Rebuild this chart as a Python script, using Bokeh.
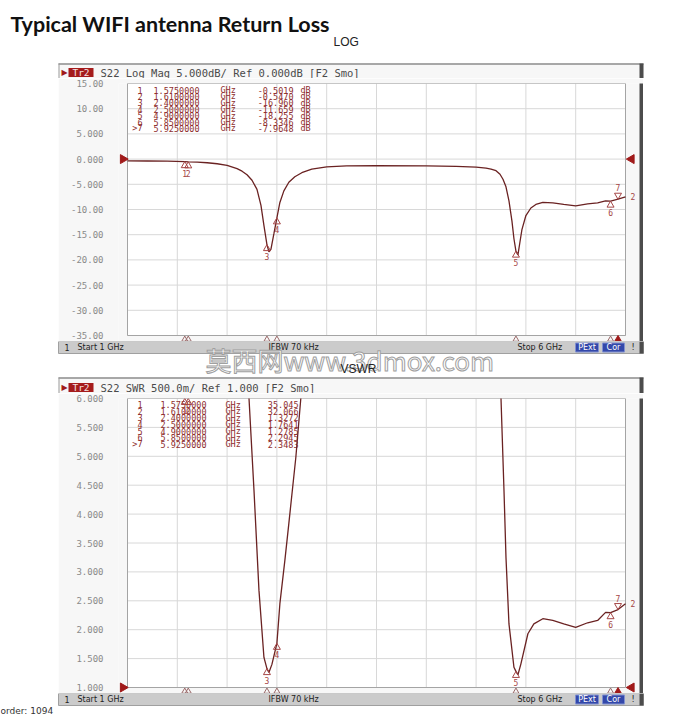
import numpy as np
from bokeh.plotting import figure
from bokeh.layouts import column, row
from bokeh.models import Range1d, FixedTicker, Spacer
from bokeh.core.properties import value
from bokeh.embed import file_html
from bokeh.resources import INLINE

# ---------------- data ----------------
F_START, F_STOP = 1.0, 6.0
X_GRID = [1.0, 1.5, 2.0, 2.5, 3.0, 3.5, 4.0, 4.5, 5.0, 5.5, 6.0]

RL_FREQ = [1.00, 1.20, 1.40, 1.575, 1.61, 1.70, 1.80, 1.90, 2.00, 2.10,
           2.15, 2.20, 2.25, 2.30, 2.34, 2.37, 2.40, 2.42, 2.44, 2.47,
           2.50, 2.53, 2.57, 2.62, 2.68, 2.75, 2.85, 3.00, 3.20, 3.50,
           4.00, 4.30, 4.50, 4.60, 4.65, 4.70, 4.74, 4.77, 4.80, 4.83,
           4.86, 4.88, 4.90, 4.92, 4.94, 4.96, 5.00, 5.05, 5.10, 5.17,
           5.27, 5.38, 5.50, 5.62, 5.72, 5.80, 5.85, 5.925, 6.00]
RL_DB = [-0.35, -0.38, -0.42, -0.50, -0.55, -0.60, -0.72, -0.92, -1.25, -1.90,
         -2.40, -3.10, -4.20, -6.00, -9.20, -13.2, -16.96, -18.4, -17.9, -14.8,
         -11.66, -8.6, -6.3, -4.6, -3.5, -2.7, -2.0, -1.55, -1.35, -1.30,
         -1.35, -1.45, -1.60, -1.80, -2.00, -2.30, -3.00, -4.00, -5.50, -8.30,
         -12.3, -15.8, -18.26, -19.0, -16.5, -14.0, -11.2, -9.7, -9.0, -8.6,
         -8.7, -9.0, -9.3, -8.9, -8.7, -8.3, -8.33, -7.96, -7.5]

SWR_FREQ = [1.00, 1.575, 1.61, 1.90, 2.10, 2.22, 2.27, 2.32, 2.37, 2.40,
            2.42, 2.45, 2.50, 2.53, 2.58, 2.62, 2.69, 2.74, 2.80, 3.00,
            3.50, 4.00, 4.50, 4.65, 4.75, 4.78, 4.80, 4.83, 4.88, 4.90,
            4.92, 4.95, 5.02, 5.08, 5.17, 5.27, 5.38, 5.50, 5.62, 5.72,
            5.80, 5.85, 5.925, 6.00]
SWR_VAL = [45.0, 35.045, 32.066, 19.0, 9.0, 6.0, 4.41, 2.68, 1.52, 1.3272,
           1.26, 1.40, 1.7641, 2.45, 3.20, 3.84, 4.98, 6.0, 7.5, 11.0,
           13.5, 13.5, 11.0, 8.5, 6.0, 4.41, 3.25, 2.10, 1.35, 1.2785,
           1.22, 1.41, 1.93, 2.10, 2.19, 2.16, 2.10, 2.04, 2.12, 2.16,
           2.30, 2.2945, 2.3483, 2.45]

MK_ID = ["1", "2", "3", "4", "5", "6", "7"]
MK_FREQ = [1.575, 1.61, 2.40, 2.50, 4.90, 5.85, 5.925]
MK_RL = [-0.5019, -0.5470, -16.960, -11.659, -18.255, -8.3346, -7.9648]
MK_SWR = [35.045, 32.066, 1.3272, 1.7641, 1.2785, 2.2945, 2.3483]
ACTIVE = "7"
TRACE_NO = "2"

RL_YTICKS = [15, 10, 5, 0, -5, -10, -15, -20, -25, -30, -35]
RL_YLABELS = ["15.00", "10.00", "5.000", "0.000", "-5.000", "-10.00",
              "-15.00", "-20.00", "-25.00", "-30.00", "-35.00"]
RL_REF = 0.0
SWR_YTICKS = [6.0, 5.5, 5.0, 4.5, 4.0, 3.5, 3.0, 2.5, 2.0, 1.5, 1.0]
SWR_YLABELS = ["6.000", "5.500", "5.000", "4.500", "4.000", "3.500",
               "3.000", "2.500", "2.000", "1.500", "1.000"]
SWR_REF = 1.0

# ---------------- styling / layout ----------------
W = 698
INSTR_BG = "#f7f7f7"
STATUS_BG = "#cbcbcb"
GRID_LINE = "#d8d8d8"
GRID_BOX = "#a4a4a4"
TRACE = "#6a2222"
MKC = "#a54646"
TABLE_C = "#8e2e2e"
REF_C = "#a01a1a"
BLUE = "#3448aa"
MONO = "DejaVu Sans Mono"

CH_X0, CH_X1 = 58, 643          # instrument window
FRAME_X0 = 118                  # plot frame left edge
GRID_X0, GRID_X1 = 127, 625     # grid (1 GHz .. 6 GHz)
PXG = (GRID_X1 - GRID_X0) / (F_STOP - F_START)


def txt(p, x, y, s, size, color, font="DejaVu Sans", align="left",
        baseline="middle", style="normal", **kw):
    p.text(x=[x], y=[y], text=[s], text_font=value(font), text_font_size=size,
           text_color=color, text_align=align, text_baseline=baseline,
           text_font_style=style, **kw)


def fmt5(v):
    ip = len(str(int(abs(v))))
    return f"{v:.{5 - ip}f}"


def band(y0, h):
    p = figure(width=W, height=h, x_range=Range1d(0, W), y_range=Range1d(y0 + h, y0),
               x_axis_location=None, y_axis_location=None, min_border=0,
               output_backend="svg", toolbar_location=None)
    p.grid.visible = False
    p.outline_line_color = None
    p.background_fill_color = "white"
    p.border_fill_color = "white"
    return p


def instr_header(p, ytop, ybot, ytext, label):
    p.quad(left=CH_X0, right=CH_X1, top=ytop, bottom=ybot, fill_color=INSTR_BG, line_color=None)
    p.segment(x0=[CH_X0], y0=[ytop + 0.5], x1=[CH_X1], y1=[ytop + 0.5], line_color="#8c8c8c", line_width=1.5)
    p.segment(x0=[CH_X0 + 0.5], y0=[ytop], x1=[CH_X0 + 0.5], y1=[ybot], line_color="#9c9c9c")
    p.quad(left=639, right=CH_X1, top=ytop, bottom=ybot, fill_color="#4c4c4c", line_color=None)
    txt(p, 61, ytext, "▶", "8px", REF_C)
    p.quad(left=68, right=93, top=ytext - 4.5, bottom=ytext + 4.5, fill_color="#a51c1c", line_color=None)
    txt(p, 80.5, ytext, "Tr2", "9.5px", "#f6e2e2", font=MONO, align="center")
    txt(p, 100, ytext, label, "10.5px", "#4a4a4a", font=MONO)


def status_bar(p, ytop, ybot):
    p.quad(left=CH_X0, right=CH_X1, top=ytop, bottom=ybot, fill_color=STATUS_BG, line_color="#a0a0a0")
    ym = (ytop + ybot) / 2
    txt(p, 64, ym, "1", "8px", "#222222")
    txt(p, 77, ym, f"Start {F_START:g} GHz", "8px", "#222222")
    txt(p, 268, ym, "IFBW 70 kHz", "8px", "#222222")
    txt(p, 517, ym, f"Stop {F_STOP:g} GHz", "8px", "#222222")
    for l, r, s in [(575, 598, "PExt"), (602, 624, "Cor")]:
        p.quad(left=l, right=r, top=ytop + 1.5, bottom=ybot - 1.5, fill_color=BLUE, line_color="#8090d0")
        txt(p, (l + r) / 2, ym, s, "8px", "white", align="center")
    txt(p, 631, ym, "!", "8px", "#222222")
    p.quad(left=639, right=CH_X1, top=ytop, bottom=ybot, fill_color="#4c4c4c", line_color=None)


def make_chart(fig_y0, h, g_top, g_bot, yticks, ylabels, fx, fy, mk_vals, ref, rows):
    vtop, vbot = yticks[0], yticks[-1]
    pxu = (g_bot - g_top) / (vtop - vbot)
    frame_bot = fig_y0 + h
    x_range = Range1d(F_START - (GRID_X0 - FRAME_X0) / PXG, F_STOP + (CH_X1 - GRID_X1) / PXG)
    y_range = Range1d(vbot - (frame_bot - g_bot) / pxu, vtop)
    p = figure(width=CH_X1 - CH_X0, height=h, x_range=x_range, y_range=y_range,
               min_border_left=FRAME_X0 - CH_X0, min_border_right=0,
               min_border_top=g_top - fig_y0, min_border_bottom=0,
               x_axis_location=None, y_axis_location="left",
               output_backend="svg", toolbar_location=None)
    p.grid.visible = False
    p.outline_line_color = None
    p.background_fill_color = INSTR_BG
    p.border_fill_color = INSTR_BG

    ax = p.yaxis[0]
    ax.ticker = FixedTicker(ticks=yticks)
    ax.major_label_overrides = {float(t): l for t, l in zip(yticks, ylabels)}
    ax.axis_line_color = None
    ax.major_tick_line_color = None
    ax.minor_tick_line_color = None
    ax.major_label_standoff = 9
    ax.major_label_text_font = MONO
    ax.major_label_text_font_size = "9px"
    ax.major_label_text_color = "#8a8a8a"

    def px(xp):
        return F_START + (xp - GRID_X0) / PXG

    def py(yp):
        return vtop - (yp - g_top) / pxu

    # grid
    p.quad(left=F_START, right=F_STOP, bottom=vbot, top=vtop, fill_color="white", line_color=None)
    p.segment(x0=X_GRID, y0=[vbot] * len(X_GRID), x1=X_GRID, y1=[vtop] * len(X_GRID),
              line_color=GRID_LINE, line_width=1)
    p.segment(x0=[F_START] * len(yticks), y0=yticks, x1=[F_STOP] * len(yticks), y1=yticks,
              line_color=GRID_LINE, line_width=1)
    p.quad(left=F_START, right=F_STOP, bottom=vbot, top=vtop, fill_alpha=0, line_color=GRID_BOX, line_width=1)
    # dark right edge of the instrument window
    p.quad(left=px(639), right=x_range.end, bottom=y_range.start, top=vtop + 1, fill_color="#4c4c4c", line_color=None)

    # marker table
    ids = [(">" if m == ACTIVE else "") + m for m in MK_ID]
    for i in range(len(MK_ID)):
        yy = py(rows["y0"] + rows["dy"] * i)
        txt(p, px(142), yy, ids[i], "8.5px", TABLE_C, font=MONO, align="right")
        txt(p, px(rows["fx"]), yy, f"{MK_FREQ[i]:.7f}", "8.5px", TABLE_C, font=MONO)
        txt(p, px(rows["gx"]), yy, "GHz", "8.5px", TABLE_C, font=MONO)
        txt(p, px(rows["vx"]), yy, fmt5(mk_vals[i]), "8.5px", TABLE_C, font=MONO, align="right")
        if rows.get("unit"):
            txt(p, px(rows["ux"]), yy, rows["unit"], "8.5px", TABLE_C, font=MONO)

    # trace
    p.line(fx, fy, line_color=TRACE, line_width=1.3)
    p.text(x=[fx[-1]], y=[fy[-1]], text=[TRACE_NO], x_offset=5, text_font=value(MONO),
           text_font_size="8px", text_color=MKC, text_baseline="middle")

    # markers on the trace (clamped to the top edge like the analyser does)
    mv = np.minimum(np.array(mk_vals, dtype=float), vtop)
    norm = [i for i, m in enumerate(MK_ID) if m != ACTIVE]
    act = [i for i, m in enumerate(MK_ID) if m == ACTIVE]
    p.scatter(x=[MK_FREQ[i] for i in norm], y=[mv[i] - 4.0 / pxu for i in norm], marker="triangle",
              size=7, fill_color=None, line_color=MKC, line_width=1)
    p.text(x=[MK_FREQ[i] for i in norm], y=[mv[i] for i in norm], text=[MK_ID[i] for i in norm],
           y_offset=8, text_font=value(MONO), text_font_size="8px", text_color=MKC,
           text_align="center", text_baseline="top")
    p.scatter(x=[MK_FREQ[i] for i in act], y=[mv[i] + 4.0 / pxu for i in act], marker="inverted_triangle",
              size=7, fill_color=None, line_color=MKC, line_width=1)
    p.text(x=[MK_FREQ[i] for i in act], y=[mv[i] for i in act], text=[MK_ID[i] for i in act],
           y_offset=-8, text_font=value(MONO), text_font_size="8px", text_color=MKC,
           text_align="center", text_baseline="bottom")

    # marker indicators under the grid
    yb = vbot - 4.0 / pxu
    p.scatter(x=[MK_FREQ[i] for i in norm], y=[yb] * len(norm), marker="triangle", size=6,
              fill_color=None, line_color="#9a6a6a", line_width=1)
    p.scatter(x=[MK_FREQ[i] for i in act], y=[yb] * len(act), marker="triangle", size=7,
              fill_color=REF_C, line_color=REF_C)

    # reference level arrows
    p.scatter(x=[px(122.5)], y=[ref], marker="triangle", angle=-np.pi / 2, size=9,
              fill_color=REF_C, line_color=REF_C)
    p.scatter(x=[px(631)], y=[ref], marker="triangle", angle=np.pi / 2, size=9,
              fill_color=REF_C, line_color=REF_C)
    return p


# ---------------- bands and charts ----------------
A_H, C1_H, B_H, C2_H, C_H = 78, 263, 52, 300, 23

bandA = band(0, A_H)
txt(bandA, 10, 23, "Typical WIFI antenna Return Loss", "21.5px", "#111111", font="Lato", style="bold")
txt(bandA, 333, 41, "LOG", "12px", "#222222", font="Liberation Sans")
instr_header(bandA, 63, A_H, 72, "S22 Log Mag 5.000dB/ Ref 0.000dB [F2 Smo]")

chart1 = make_chart(A_H, C1_H, 83, 335, RL_YTICKS, RL_YLABELS, RL_FREQ, RL_DB, MK_RL, RL_REF,
                    dict(y0=89.5, dy=6.4, fx=153, gx=220, vx=293, ux=300, unit="dB"))

y_b = A_H + C1_H
bandB = band(y_b, B_H)
status_bar(bandB, y_b, y_b + 12)
instr_header(bandB, 377, y_b + B_H, 387, "S22 SWR 500.0m/ Ref 1.000 [F2 Smo]")
bandB.text(x=[205], y=[359], text=["莫西网www.3dmox.com"], text_font=value("Noto Sans CJK SC"),
           text_font_size="26px", text_color="#ffffff", text_outline_color="#a0a0a0",
           text_baseline="middle", text_align="left")
txt(bandB, 340, 368, "VSWR", "12px", "#222222", font="Liberation Sans")

y_c2 = y_b + B_H
chart2 = make_chart(y_c2, C2_H, 398, 687, SWR_YTICKS, SWR_YLABELS, SWR_FREQ, SWR_VAL, MK_SWR, SWR_REF,
                    dict(y0=404, dy=6.65, fx=160, gx=225, vx=298))

y_c = y_c2 + C2_H
bandC = band(y_c, C_H)
status_bar(bandC, y_c, y_c + 12)
txt(bandC, 0, 710.5, "order: 1094", "9px", "#333333")

layout = column(
    bandA,
    row(Spacer(width=CH_X0, height=C1_H), chart1, Spacer(width=W - CH_X1, height=C1_H)),
    bandB,
    row(Spacer(width=CH_X0, height=C2_H), chart2, Spacer(width=W - CH_X1, height=C2_H)),
    bandC,
)

open("out.html", "w").write(file_html(layout, INLINE))
